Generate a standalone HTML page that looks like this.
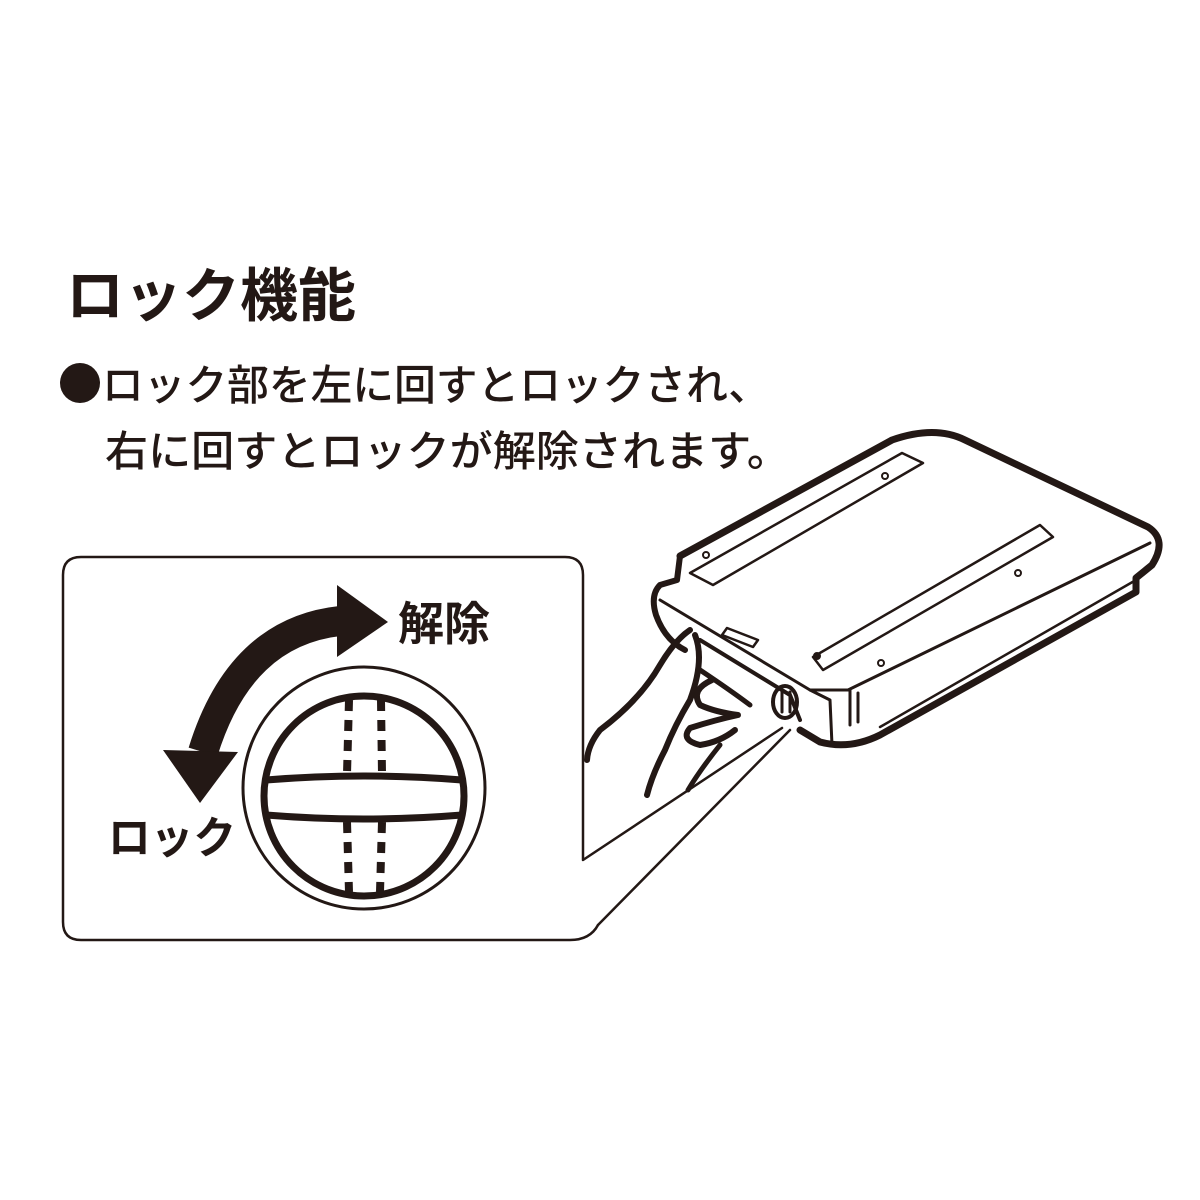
<!DOCTYPE html>
<html><head><meta charset="utf-8"><style>
html,body{margin:0;padding:0;background:#fff;}
svg{display:block;}
text{font-family:"Liberation Sans","Noto Sans CJK JP",sans-serif;fill:#231815;}
</style></head><body>
<svg width="1200" height="1200" viewBox="0 0 1200 1200" xmlns="http://www.w3.org/2000/svg">
<rect width="1200" height="1200" fill="#fff"/>
<text x="66" y="316" font-size="58" font-weight="700" textLength="290" lengthAdjust="spacingAndGlyphs">ロック機能</text>
<circle cx="80" cy="383" r="20" fill="#231815"/>
<text x="102" y="400" font-size="42" font-weight="500" textLength="668" lengthAdjust="spacingAndGlyphs">ロック部を左に回すとロックされ、</text>
<text x="105" y="466" font-size="42" font-weight="500" textLength="685" lengthAdjust="spacingAndGlyphs">右に回すとロックが解除されます。</text>

<g fill="none" stroke="#231815" stroke-linejoin="round" stroke-linecap="round">
<!-- callout box -->
<path d="M598,925 Q590,940 570,940 L81,940 Q63,940 63,922 L63,575 Q63,557 81,557 L565,557 Q583,557 583,575 L583,860 L782,728" stroke-width="2.5"/>
<path d="M790,730 L598,925" stroke-width="2.5"/>
<!-- dial -->
<circle cx="364" cy="788" r="121" stroke-width="3"/>
<circle cx="364" cy="796" r="100" stroke-width="7"/>
<path d="M266,780 Q364,772 462,780" stroke-width="7"/>
<path d="M266,815 Q364,823 462,815" stroke-width="7"/>
<path d="M349,700 L347,774 M381,700 L382,774 M347,822 L349,892 M382,822 L380,892" stroke-width="8" stroke-linecap="butt" stroke-dasharray="11,9"/>
<!-- arrow body -->
<path d="M340,621 Q240,632 203,752" stroke="#231815" stroke-width="30" stroke-linecap="butt"/>
</g>
<polygon points="337,585 388,622 337,657" fill="#231815"/>
<polygon points="163,750 238,752 200,803" fill="#231815"/>
<text x="398" y="640" font-size="46" font-weight="700">解除</text>
<text x="108" y="853" font-size="44" font-weight="700" textLength="128" lengthAdjust="spacingAndGlyphs">ロック</text>

<!-- device -->
<g fill="none" stroke="#231815" stroke-linejoin="round" stroke-linecap="round">
<path d="M680,556 L892,440 Q935,425 965,440 L1148,527 Q1168,540 1152,565 L1136,578 L1136,592 L880,735 Q850,750 820,742 L800,730" stroke-width="7"/>
<path d="M680,556 L677,580 L660,585 Q650,595 656,615 Q665,640 685,650" stroke-width="6"/>
<path d="M660,600 L810,690 L848,690 L1150,543" stroke-width="3"/>
<path d="M810,690 L830,700 L832,745" stroke-width="3"/>
<path d="M690,573 L713,585 L923,463 L902,453 Z" stroke-width="2.5"/>
<path d="M813,657 L823,670 L1053,537 L1040,525 Z" stroke-width="2.5"/>
<path d="M1136,580 L880,727" stroke-width="2.5"/>
<path d="M727,628 L758,640 L753,647 L722,635 Z" stroke-width="2.5"/>
<circle cx="885" cy="476" r="3" stroke-width="2"/>
<circle cx="706" cy="555" r="3" stroke-width="2"/>
<circle cx="1018" cy="573" r="3" stroke-width="2"/>
<circle cx="881" cy="663" r="3" stroke-width="2"/>
<circle cx="817" cy="656" r="3" fill="#231815" stroke-width="2"/>
<path d="M850,690 L850,725 M858,693 L858,722" stroke-width="3"/>
<path d="M700,640 L790,695 L800,720" stroke-width="4"/>
<ellipse cx="785" cy="702" rx="12" ry="16" stroke-width="4"/>
<path d="M782,692 L782,712 M790,692 L790,712" stroke-width="3"/>
<!-- hand -->
<path d="M690,630 Q675,640 660,665 Q640,700 600,730 Q588,745 587,760" stroke-width="6"/>
<path d="M695,635 Q705,660 690,700 Q675,725 665,750 Q652,775 647,795" stroke-width="6"/>
<path d="M700,670 Q730,690 750,705" stroke-width="5"/>
<path d="M712,680 Q690,690 700,705 Q715,712 738,715 Q715,720 690,728 Q680,740 700,745 Q720,742 735,730" stroke-width="6"/>
<path d="M720,745 Q700,770 688,790" stroke-width="5"/>
</g>
</svg>
</body></html>
